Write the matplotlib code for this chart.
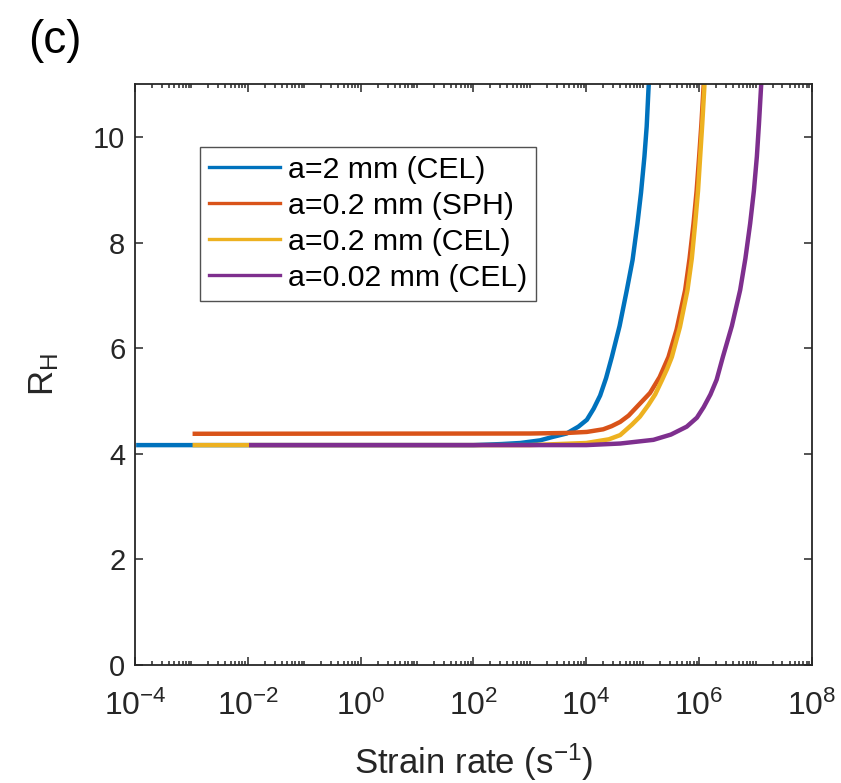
import numpy as np
import matplotlib
matplotlib.use("Agg")
import matplotlib.pyplot as plt
from matplotlib.ticker import FixedLocator, FuncFormatter, NullFormatter

plt.rcParams["font.family"] = ["Liberation Sans", "DejaVu Sans"]
plt.rcParams["mathtext.default"] = "regular"

# strain rate given as log10 values, R_H
labels = ["a=2 mm (CEL)", "a=0.2 mm (SPH)", "a=0.2 mm (CEL)", "a=0.02 mm (CEL)"]
colors = ["#0072BD", "#D95319", "#EDB120", "#7E2F8E"]

logx_cel2 = [-3.94, 2.0, 2.5, 2.83, 3.18, 3.42, 3.65, 3.86, 4.01, 4.13,
             4.245, 4.35, 4.452, 4.59, 4.718, 4.82, 4.906, 4.97, 5.03, 5.07,
             5.101, 5.12]
rh_cel2 = [4.16, 4.16, 4.18, 4.20, 4.25, 4.32, 4.38, 4.51, 4.64, 4.85,
           5.10, 5.43, 5.83, 6.42, 7.10, 7.67, 8.36, 8.95, 9.63, 10.20,
           10.89, 11.25]

logx_sph02 = [-2.94, 3.0, 3.65, 4.01, 4.30, 4.45, 4.60, 4.75, 4.90, 5.13,
              5.30, 5.456, 5.60, 5.752, 5.83, 5.90, 5.955, 6.00, 6.04, 6.075,
              6.095]
rh_sph02 = [4.375, 4.38, 4.39, 4.41, 4.46, 4.52, 4.60, 4.72, 4.89, 5.15,
            5.45, 5.83, 6.35, 7.10, 7.70, 8.36, 8.98, 9.63, 10.25, 10.89,
            11.25]

logx_cel02 = [-2.94, 3.0, 4.0, 4.40, 4.60, 4.81, 4.95, 5.10, 5.22, 5.34,
              5.43, 5.516, 5.66, 5.793, 5.87, 5.929, 5.98, 6.018, 6.055, 6.089,
              6.105]
rh_cel02 = [4.16, 4.16, 4.20, 4.27, 4.35, 4.55, 4.70, 4.92, 5.12, 5.39,
            5.60, 5.83, 6.40, 7.10, 7.70, 8.36, 8.98, 9.63, 10.25, 10.89,
            11.25]

logx_cel002 = [-1.94, 4.0, 4.60, 5.19, 5.50, 5.78, 5.96, 6.08, 6.20, 6.31,
               6.42, 6.58, 6.727, 6.82, 6.904, 6.97, 7.023, 7.06, 7.094, 7.115]
rh_cel002 = [4.16, 4.16, 4.19, 4.26, 4.36, 4.51, 4.68, 4.88, 5.12, 5.40,
             5.83, 6.42, 7.10, 7.70, 8.36, 8.98, 9.63, 10.25, 10.89, 11.25]

series = [(logx_cel2, rh_cel2), (logx_sph02, rh_sph02),
          (logx_cel02, rh_cel02), (logx_cel002, rh_cel002)]

fig = plt.figure(figsize=(8.41, 7.83), dpi=100)
ax = fig.add_axes([0.1605, 0.1513, 0.805, 0.741])

for (lx, ry), c, lab in zip(series, colors, labels):
    ax.plot(10.0 ** np.array(lx), ry, color=c, lw=3.2, label=lab,
            solid_joinstyle="round")

ax.set_xscale("log")
ax.set_xlim(1e-4, 1e8)
ax.set_ylim(0, 11)

major = [10.0 ** k for k in range(-4, 9, 2)]
minor = [m * 10.0 ** k for k in range(-4, 8) for m in range(1, 10)
         if not (m == 1 and k % 2 == 0)]
ax.xaxis.set_major_locator(FixedLocator(major))
ax.xaxis.set_minor_locator(FixedLocator(minor))
ax.xaxis.set_major_formatter(FuncFormatter(
    lambda v, p: r"$10^{%d}$" % int(round(np.log10(v)))))
ax.xaxis.set_minor_formatter(NullFormatter())
ax.set_yticks(range(0, 12, 2))

ink = "#262626"
for s in ax.spines.values():
    s.set_color(ink)
    s.set_linewidth(1.3)
ax.tick_params(which="both", direction="in", top=True, right=True,
               colors=ink, labelcolor=ink, labelsize=21, width=1.1)
ax.tick_params(which="major", length=5.5)
ax.tick_params(axis="x", which="major", pad=19, labelsize=23)
ax.tick_params(axis="y", which="major", pad=7)
ax.tick_params(which="minor", length=3)

ax.set_xlabel("Strain rate (s$^{-1}$)", fontsize=25, color=ink, labelpad=14)
ax.set_ylabel("R$_H$", fontsize=25, color=ink, labelpad=23)

leg = ax.legend(loc="upper left", bbox_to_anchor=(0.096, 0.892),
                borderaxespad=0, fontsize=21.8, frameon=True, fancybox=False,
                handlelength=2.35, handletextpad=0.25, labelspacing=0.26,
                borderpad=0.3)
leg.get_frame().set_edgecolor("#262626")
leg.get_frame().set_linewidth(1.0)
for h in leg.get_lines():
    h.set_linewidth(2.4)

fig.text(0.033, 0.948, "(c)", fontsize=33, ha="left", va="center")

fig.savefig("out.png", dpi=100)
